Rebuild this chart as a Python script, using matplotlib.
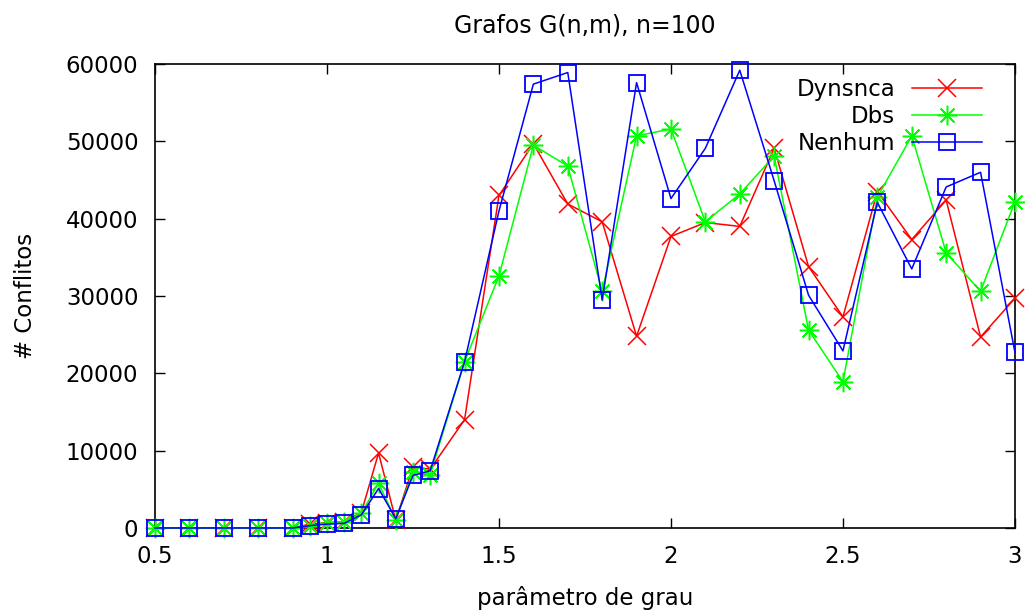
import numpy as np
import matplotlib
matplotlib.use("Agg")
import matplotlib.pyplot as plt

# parametro de grau
grau = [0.5, 0.6, 0.7, 0.8, 0.9, 0.95, 1.0, 1.05, 1.1, 1.15, 1.2, 1.25, 1.3,
        1.4, 1.5, 1.6, 1.7, 1.8, 1.9, 2.0, 2.1, 2.2, 2.3, 2.4, 2.5, 2.6,
        2.7, 2.8, 2.9, 3.0]

dynsnca = [0, 0, 0, 0, 0, 500, 700, 800, 2000, 9700, 1000, 7900, 7600,
           14000, 43000, 49700, 41900, 39600, 24800, 37700, 39500, 39000,
           49100, 33800, 27300, 43500, 37300, 42400, 24700, 29700]
dbs = [0, 0, 0, 0, 0, 300, 600, 800, 1900, 5800, 1000, 7300, 6900,
       21500, 32600, 49500, 46800, 30600, 50700, 51600, 39600, 43200,
       48100, 25600, 18900, 42800, 50700, 35600, 30600, 42200]
nenhum = [0, 0, 0, 0, 0, 300, 500, 600, 1700, 5100, 1200, 6800, 7400,
          21500, 41000, 57400, 58900, 29500, 57600, 42600, 49100, 59200,
          44900, 30100, 22900, 42100, 33500, 44100, 46000, 22700]

xticks = [0.5, 1, 1.5, 2, 2.5, 3]
xticklabels = ["0.5", "1", "1.5", "2", "2.5", "3"]
yticks = [0, 10000, 20000, 30000, 40000, 50000, 60000]

plt.rcParams['font.family'] = 'DejaVu Sans'
fig = plt.figure(figsize=(10.25, 6.12), dpi=100)
ax = fig.add_axes([0.1512, 0.1373, 0.8390, 0.7581])

ax.plot(grau, dynsnca, color='#ff0000', marker='x', ms=13, mew=1.1, lw=1.1,
        label='Dynsnca', clip_on=False, zorder=3)
ax.plot(grau, dbs, color='#00ff00', marker=(8, 2, 0), ms=14, mew=1.1, lw=1.1,
        label='Dbs', clip_on=False, zorder=3)
ax.plot(grau, nenhum, color='#0000ff', marker='s', ms=12, mfc='none', mew=1.3,
        lw=1.1, label='Nenhum', clip_on=False, zorder=3)

ax.set_xlim(0.5, 3)
ax.set_ylim(0, 60000)
ax.set_xticks(xticks)
ax.set_xticklabels(xticklabels)
ax.set_yticks(yticks)
ax.tick_params(direction='in', length=7, width=1, top=True, right=True,
               labelsize=16.5)
ax.tick_params(axis='y', pad=12)
ax.tick_params(axis='x', pad=12)
for s in ax.spines.values():
    s.set_linewidth(1.2)

ax.set_title('Grafos G(n,m), n=100', fontsize=17, pad=23)
ax.set_xlabel('parâmetro de grau', fontsize=16.5, labelpad=13)
ax.set_ylabel('# Conflitos', fontsize=16.5, labelpad=21)

ax.legend(loc='upper right', bbox_to_anchor=(0.962, 0.97), frameon=False,
          markerfirst=False, fontsize=16.5, handlelength=3.05,
          handletextpad=0.75, labelspacing=0.18, borderpad=0, borderaxespad=0)

fig.savefig('out.png', dpi=100)
